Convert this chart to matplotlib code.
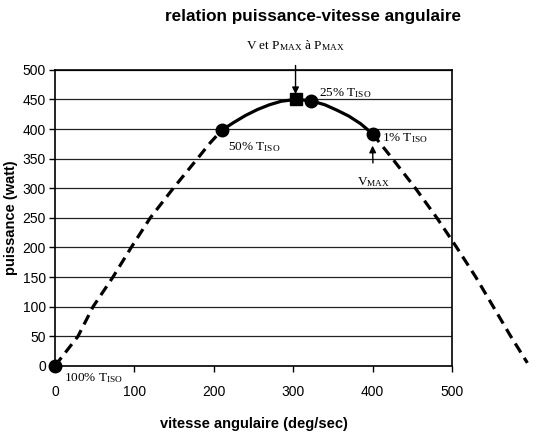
import matplotlib.pyplot as plt

plt.rcParams['font.family'] = ['Liberation Sans', 'DejaVu Sans']
plt.rcParams['mathtext.fontset'] = 'custom'
plt.rcParams['mathtext.rm'] = 'Liberation Serif'

# courbe (vitesse deg/sec, puissance watt)
curve_v = [0, 29, 48, 73, 96, 120, 149, 180, 195, 210, 225, 240, 255, 270, 285, 303,
           322, 340, 355, 370, 385, 400, 425, 454, 481, 506, 530, 552, 574, 595]
curve_p = [0, 50, 100, 150, 200, 250, 300, 351, 376, 398, 411, 423, 433, 441, 447, 450,
           448, 441, 432, 422, 409, 392, 350, 300, 250, 200, 150, 100, 50, 5]

# points mesures
pts_v = [0, 210, 322, 400]
pts_p = [0, 398, 448, 392]
pmax_v = 303
pmax_p = 450

fig = plt.figure(figsize=(5.39, 4.34), dpi=100)
ax = fig.add_axes([0.102, 0.157, 0.7365, 0.682])

ax.set_xlim(0, 500)
ax.set_ylim(0, 500)
ax.set_xticks(range(0, 501, 100))
ax.set_yticks(range(0, 501, 50))
ax.yaxis.grid(True, color='#222222', linewidth=0.9)
ax.set_axisbelow(True)
for s in ax.spines.values():
    s.set_linewidth(1.2)
ax.tick_params(direction='out', length=4.5, width=1, labelsize=10, pad=2)
ax.tick_params(axis='x', pad=9)

# partie pointillee (extrapolee) et partie pleine
i0 = curve_v.index(210)
i1 = curve_v.index(400)
ln1, = ax.plot(curve_v[:i0 + 1], curve_p[:i0 + 1], color='black', lw=2.3, clip_on=False)
ln2, = ax.plot(curve_v[i1:], curve_p[i1:], color='black', lw=2.3, clip_on=False)
for ln in (ln1, ln2):
    ln.set_dashes((3.3, 2.0))
ax.plot(curve_v[i0:i1 + 1], curve_p[i0:i1 + 1], color='black', lw=2.3, clip_on=False,
        solid_joinstyle='round')

ax.plot(pts_v, pts_p, 'o', color='black', ms=9, clip_on=False, zorder=5)
ax.plot([pmax_v], [pmax_p], 's', color='black', ms=8, clip_on=False, zorder=5)

tiso = r'$\mathrm{T_{ISO}}$'
fs = 9.5
ax.text(11, -21, '100% ' + tiso, fontsize=fs, family='Liberation Serif', va='center')
ax.text(218, 370, '50% ' + tiso, fontsize=fs, family='Liberation Serif', va='center')
ax.text(332, 461, '25% ' + tiso, fontsize=fs, family='Liberation Serif', va='center')
ax.text(412, 384, '1% ' + tiso, fontsize=fs, family='Liberation Serif', va='center')

ax.annotate(r'V et $\mathrm{P_{MAX}}$ à $\mathrm{P_{MAX}}$', xy=(pmax_v, 459), xytext=(pmax_v, 541),
            ha='center', va='center', fontsize=fs, family='Liberation Serif',
            arrowprops=dict(arrowstyle='-|>', color='black', lw=1, mutation_scale=10,
                            shrinkA=7, shrinkB=0), annotation_clip=False)
ax.annotate(r'$\mathrm{V_{MAX}}$', xy=(400, 372), xytext=(401, 310),
            ha='center', va='center', fontsize=fs, family='Liberation Serif',
            arrowprops=dict(arrowstyle='-|>', color='black', lw=1, mutation_scale=10,
                            shrinkA=7, shrinkB=0), annotation_clip=False)

ax.set_xlabel('vitesse angulaire (deg/sec)', fontsize=10.5, fontweight='bold', labelpad=13)
ax.set_ylabel('puissance (watt)', fontsize=10.5, fontweight='bold', labelpad=3)
fig.text(0.581, 0.962, 'relation puissance-vitesse angulaire', fontsize=12.3,
         fontweight='bold', ha='center', va='center')

fig.savefig('out.png', dpi=100)
